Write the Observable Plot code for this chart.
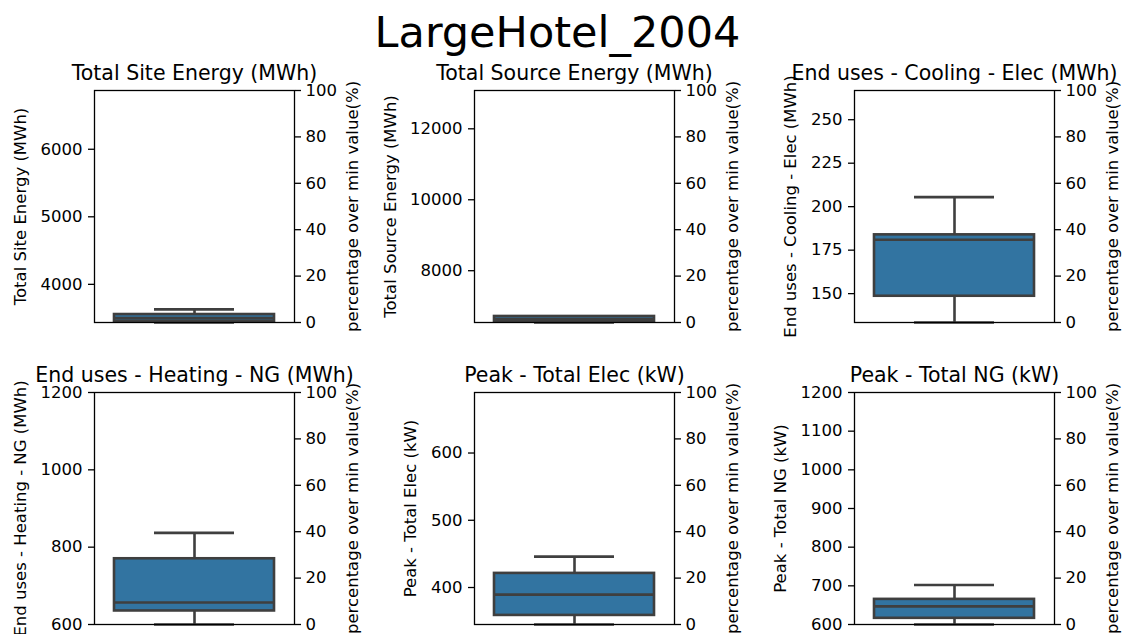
<!DOCTYPE html>
<html><head><meta charset="utf-8">
<script src="https://cdn.jsdelivr.net/npm/d3@7"></script>
<script src="https://cdn.jsdelivr.net/npm/@observablehq/plot@0.6"></script>
<style>
html,body{margin:0;padding:0;background:#fff;overflow:hidden}
#fig{position:relative;width:1124px;height:634px;overflow:hidden;background:#fff;font-family:"DejaVu Sans",sans-serif}
#sup{position:absolute;left:0;width:1115px;top:11px;text-align:center;font-size:43px;line-height:43px;color:#000}
.panel{position:absolute}
</style></head><body>
<div id="fig"><div id="sup"></div></div>
<script>
// ---- data ----
const suptitle = "LargeHotel_2004";
const titles = [
  "Total Site Energy (MWh)",
  "Total Source Energy (MWh)",
  "End uses - Cooling - Elec (MWh)",
  "End uses - Heating - NG (MWh)",
  "Peak - Total Elec (kW)",
  "Peak - Total NG (kW)"
];
const whiskerLo = [3435, 6540, 133.4, 600, 345, 600];
const q1        = [3452, 6565, 148.5, 635, 358.5, 616];
const median    = [3500, 6640, 181.0, 657, 389.5, 647];
const q3        = [3553, 6710, 183.8, 770, 421, 665];
const whiskerHi = [3630, 6715, 205.5, 837, 446, 702];
const leftTicks = [
  [4000, 5000, 6000],
  [8000, 10000, 12000],
  [150, 175, 200, 225, 250],
  [600, 800, 1000, 1200],
  [400, 500, 600],
  [600, 700, 800, 900, 1000, 1100, 1200]
];
const pctTicks = [0, 20, 40, 60, 80, 100];
const pctLabel = "percentage over min value(%)";

// ---- styling / layout ----
const boxFill = "#3274a1", lineColor = "#3f3f3f", lw = 2.6;
const frameW = 200, frameH = 232, mL = 94, mR = 70, mT = 40, mB = 10;
const fontSize = 16.5, titleSize = 20.5;

document.getElementById("sup").textContent = suptitle;
const fig = document.getElementById("fig");

titles.forEach((title, i) => {
  const col = i % 3, row = Math.floor(i / 3);
  const lo = whiskerLo[i];
  const d = [{lo, q1: q1[i], med: median[i], q3: q3[i], hi: whiskerHi[i]}];
  const digits = d3.max(leftTicks[i], t => String(t).length);
  const ylabDx = -(32 + 10.43 * digits);
  const p = Plot.plot({
    width: mL + frameW + mR,
    height: mT + frameH + mB,
    marginLeft: mL, marginRight: mR, marginTop: mT, marginBottom: mB,
    style: {fontFamily: "DejaVu Sans, sans-serif", fontSize: fontSize + "px", color: "#000", background: "transparent", overflow: "visible"},
    x: {domain: [-0.5, 0.5], axis: null},
    y: {domain: [lo, 2 * lo], axis: null},
    marks: [
      Plot.ruleX(d, {x: () => 0, y1: "q3", y2: "hi", stroke: lineColor, strokeWidth: lw}),
      Plot.ruleX(d, {x: () => 0, y1: "lo", y2: "q1", stroke: lineColor, strokeWidth: lw}),
      Plot.ruleY(d, {y: "hi", x1: () => -0.2, x2: () => 0.2, stroke: lineColor, strokeWidth: lw}),
      Plot.ruleY(d, {y: "lo", x1: () => -0.2, x2: () => 0.2, stroke: lineColor, strokeWidth: lw}),
      Plot.rect(d, {x1: () => -0.4, x2: () => 0.4, y1: "q1", y2: "q3", fill: boxFill, stroke: lineColor, strokeWidth: lw}),
      Plot.ruleY(d, {y: "med", x1: () => -0.4, x2: () => 0.4, stroke: lineColor, strokeWidth: lw}),
      Plot.axisY({anchor: "left", ticks: leftTicks[i], tickFormat: v => String(v), tickSize: 6, tickPadding: 6, label: null, strokeWidth: 1.3}),
      Plot.axisY({anchor: "right", ticks: pctTicks.map(v => lo * (1 + v / 100)),
        tickFormat: v => String(Math.round((v / lo - 1) * 100)), tickSize: 6, tickPadding: 5, label: null, strokeWidth: 1.3}),
      Plot.frame({stroke: "#000", strokeWidth: 1.3}),
      Plot.text([title], {frameAnchor: "top", text: t => t, lineAnchor: "bottom", dy: -11, fontSize: titleSize, fill: "#000"}),
      Plot.text([title], {frameAnchor: "left", text: t => t, rotate: -90, dx: ylabDx, lineAnchor: "middle", textAnchor: "middle", fontSize: fontSize, fill: "#000"}),
      Plot.text([pctLabel], {frameAnchor: "right", text: t => t, rotate: -90, dx: 58, lineAnchor: "middle", textAnchor: "middle", fontSize: fontSize, fill: "#000"})
    ]
  });
  p.classList.add("panel");
  p.style.left = (col * 380) + "px";
  p.style.top = (row === 0 ? 50 : 352) + "px";
  fig.appendChild(p);
});
</script>
</body></html>
